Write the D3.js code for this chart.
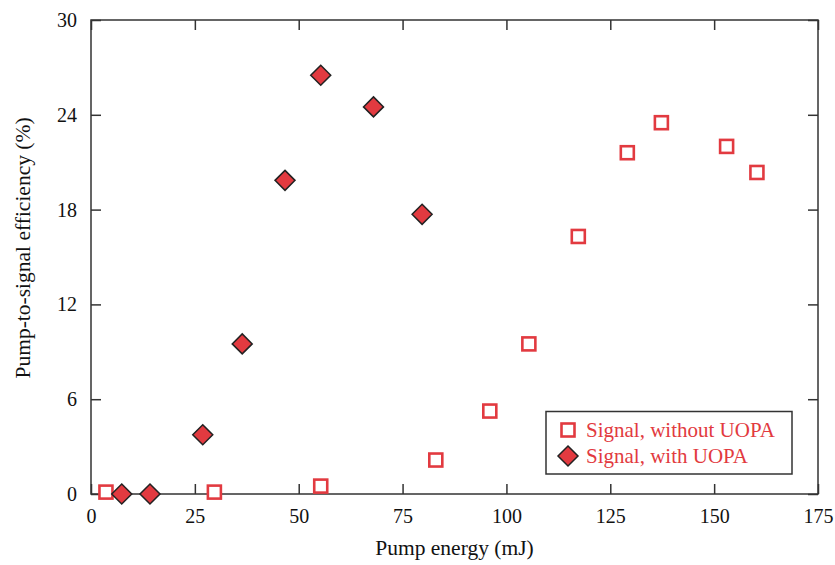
<!DOCTYPE html>
<html><head><meta charset="utf-8">
<script src="https://cdn.jsdelivr.net/npm/d3@7"></script>
<style>body{margin:0;background:#fff}text{font-family:"Liberation Serif","Times New Roman",Times,"DejaVu Serif",serif}</style>
</head><body>
<svg id="c" width="835" height="565"></svg>
<script>
const withoutX = [3.6, 29.7, 55.3, 83.0, 96.0, 105.4, 117.3, 129.1, 137.3, 153.0, 160.3];
const withoutY = [0.12, 0.12, 0.5, 2.15, 5.25, 9.5, 16.3, 21.6, 23.5, 22.0, 20.35];
const withX = [7.4, 14.2, 26.9, 36.4, 46.7, 55.3, 68.0, 79.7];
const withY = [0.0, 0.0, 3.75, 9.5, 19.85, 26.5, 24.5, 17.7];
const xTicks = [0, 25, 50, 75, 100, 125, 150, 175];
const yTicks = [0, 6, 12, 18, 24, 30];
const seriesNames = ["Signal, without UOPA", "Signal, with UOPA"];

(function () {
const red = "#e23a40";
const ff = '"Liberation Serif","Times New Roman",Times,"DejaVu Serif",serif';
const svg = d3.select("#c");
const L = 91, R = 818, T = 20, B = 494;
const x = d3.scaleLinear().domain([0, 175]).range([L, R]);
const y = d3.scaleLinear().domain([0, 30]).range([B, T]);

const axisCol = "#333";
svg.append("rect").attr("x", L).attr("y", T).attr("width", R - L).attr("height", B - T)
  .attr("fill", "none").attr("stroke", axisCol).attr("stroke-width", 1.5);

const fmt = d3.format("d");
const gB = svg.append("g").attr("transform", `translate(0,${B})`)
  .call(d3.axisBottom(x).tickValues(xTicks).tickSizeInner(-10).tickSizeOuter(0).tickPadding(15).tickFormat(fmt));
const gL = svg.append("g").attr("transform", `translate(${L},0)`)
  .call(d3.axisLeft(y).tickValues(yTicks).tickSizeInner(-10).tickSizeOuter(0).tickPadding(14).tickFormat(fmt));
const gT = svg.append("g").attr("transform", `translate(0,${T})`)
  .call(d3.axisTop(x).tickValues(xTicks).tickSizeInner(-10).tickSizeOuter(0).tickFormat(""));
const gR = svg.append("g").attr("transform", `translate(${R},0)`)
  .call(d3.axisRight(y).tickValues(yTicks).tickSizeInner(-10).tickSizeOuter(0).tickFormat(""));
[gB, gL, gT, gR].forEach(g => {
  g.attr("font-family", null).attr("font-size", null);
  g.select(".domain").remove();
  g.selectAll("line").attr("stroke", axisCol).attr("stroke-width", 1.5);
  g.selectAll("text").attr("fill", "#111").style("font-size", "20px").style("font-family", ff);
});

svg.append("text").attr("x", (L + R) / 2).attr("y", 555).attr("text-anchor", "middle")
  .style("font-size", "21.5px").style("font-family", ff).attr("fill", "#111").text("Pump energy (mJ)");
svg.append("text").attr("transform", `translate(30,248) rotate(-90)`)
  .attr("text-anchor", "middle").style("font-size", "21.5px").style("font-family", ff).attr("fill", "#111")
  .text("Pump-to-signal efficiency (%)");

const sq = 13;
function diamondPath(cx, cy, r) {
  return `M${cx},${cy - r}L${cx + r},${cy}L${cx},${cy + r}L${cx - r},${cy}Z`;
}

svg.append("g").selectAll("rect").data(withoutX.map((v, i) => [v, withoutY[i]])).join("rect")
  .attr("x", d => x(d[0]) - sq / 2).attr("y", d => y(d[1]) - sq / 2)
  .attr("width", sq).attr("height", sq).attr("fill", "#fff")
  .attr("stroke", red).attr("stroke-width", 2.6);

svg.append("g").selectAll("path").data(withX.map((v, i) => [v, withY[i]])).join("path")
  .attr("d", d => diamondPath(x(d[0]), y(d[1]), 10))
  .attr("fill", red).attr("stroke", "#222").attr("stroke-width", 1.5);

const lg = svg.append("g");
lg.append("rect").attr("x", 546).attr("y", 411.5).attr("width", 246).attr("height", 62.5)
  .attr("fill", "#fff").attr("stroke", axisCol).attr("stroke-width", 1.5);
lg.append("rect").attr("x", 568 - sq / 2).attr("y", 430 - sq / 2).attr("width", sq).attr("height", sq)
  .attr("fill", "#fff").attr("stroke", red).attr("stroke-width", 2.6);
lg.append("path").attr("d", diamondPath(568, 456, 10)).attr("fill", red)
  .attr("stroke", "#222").attr("stroke-width", 1.5);
lg.selectAll("text.l").data(seriesNames).join("text").attr("class", "l")
  .attr("x", 586).attr("y", (d, i) => 437 + i * 26).attr("fill", red)
  .style("font-size", "21px").style("font-family", ff).text(d => d);
})();
</script>
</body></html>
